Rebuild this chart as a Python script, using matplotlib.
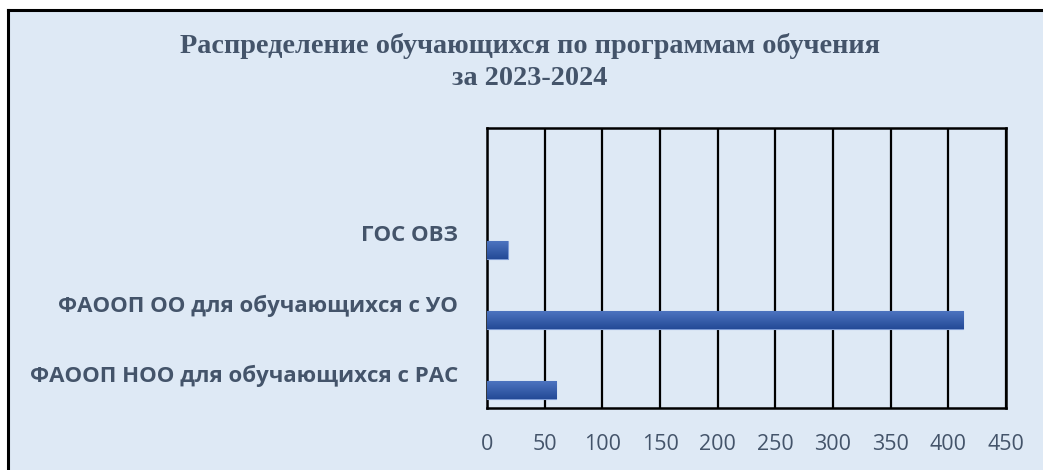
import numpy as np
import matplotlib.pyplot as plt
from matplotlib.patches import Rectangle
from matplotlib.lines import Line2D
from matplotlib.colors import LinearSegmentedColormap

# data
categories = ["ФАООП НОО для обучающихся с РАС",
              "ФАООП ОО для обучающихся с УО",
              "ГОС ОВЗ"]
values = [60, 413, 18]
x_ticks = [0, 50, 100, 150, 200, 250, 300, 350, 400, 450]

title = "Распределение обучающихся по программам обучения\nза 2023-2024"

BG = "#dee9f5"
TXT = "#44546a"

W, H = 1043, 470
fig = plt.figure(figsize=(W / 100, H / 100), dpi=100)
fig.patch.set_facecolor("white")

# chart area panel with black top/left edges
fig.patches.append(Rectangle((8 / W, 0), 1 - 8 / W, 1 - 10 / H,
                             transform=fig.transFigure, facecolor=BG,
                             edgecolor="none", zorder=-10))
fig.lines.append(Line2D([8 / W, 1], [1 - 10 / H, 1 - 10 / H],
                        transform=fig.transFigure, color="black", lw=2.2,
                        zorder=-9))
fig.lines.append(Line2D([8 / W, 8 / W], [0, 1 - 10 / H],
                        transform=fig.transFigure, color="black", lw=2.2,
                        zorder=-9))

ax = fig.add_axes([487 / W, (H - 408) / H, (1006 - 487) / W, (408 - 128) / H])
ax.set_facecolor(BG)

y = np.arange(len(categories))
offset = 0.24
bars = ax.barh(y - offset, values, height=0.26, color="#3259a8",
               edgecolor="#7d9ad4", linewidth=0.8, zorder=3)

# vertical gradient fill inside each bar
grad_cmap = LinearSegmentedColormap.from_list("bar", ["#244a97", "#4f76c2"])
grad = np.linspace(0, 1, 64).reshape(-1, 1)
for b in bars:
    x0, y0 = b.get_x(), b.get_y()
    im = ax.imshow(grad, cmap=grad_cmap, aspect="auto", origin="lower",
                   extent=(x0, x0 + b.get_width(), y0, y0 + b.get_height()),
                   zorder=3.5, interpolation="bilinear")
    im.set_clip_path(b)

ax.set_xlim(0, 450)
# one empty slot above the last category, as in the source chart
ax.set_ylim(-0.5, len(categories) + 0.5)
ax.set_xticks(x_ticks)
ax.set_yticks(y)
ax.set_yticklabels(categories)
ax.xaxis.grid(True, color="black", lw=1.6, zorder=1)
ax.set_axisbelow(True)
for s in ax.spines.values():
    s.set_color("black")
    s.set_linewidth(1.8)
ax.tick_params(axis="both", length=0, colors=TXT)
ax.tick_params(axis="x", pad=19)
ax.tick_params(axis="y", pad=21)
for lab in ax.get_xticklabels():
    lab.set_fontsize(15.5)
    lab.set_family("Open Sans")
for lab in ax.get_yticklabels():
    lab.set_fontsize(16)
    lab.set_family("Open Sans")
    lab.set_fontweight("bold")

fig.text(530 / W, 1 - 62 / H, title, ha="center", va="center",
         fontsize=20.3, fontweight="bold", family="Liberation Serif",
         color=TXT, linespacing=1.35)

fig.savefig("out.png", dpi=100, facecolor=fig.get_facecolor())
